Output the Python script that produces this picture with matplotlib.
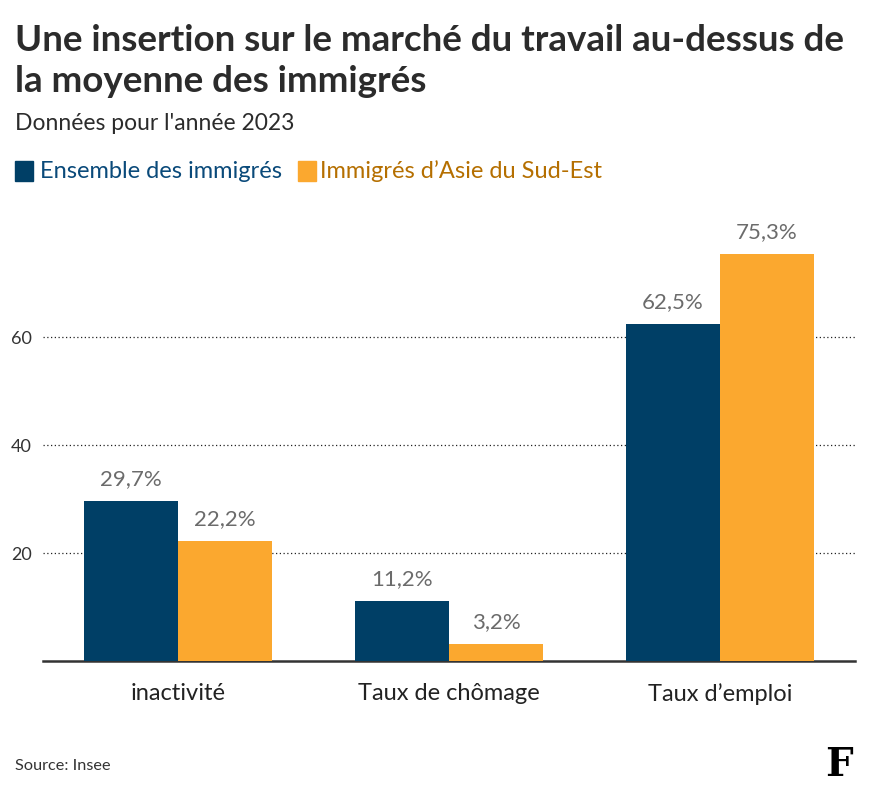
import numpy as np
import matplotlib.pyplot as plt

categories = ["inactivité", "Taux de chômage", "Taux d’emploi"]
ensemble = [29.7, 11.2, 62.5]
asie = [22.2, 3.2, 75.3]
series_names = ["Ensemble des immigrés", "Immigrés d’Asie du Sud-Est"]
yticks = [20, 40, 60]

blue = "#003f66"
orange = "#fba82f"

fig = plt.figure(figsize=(8.88, 8.05), dpi=100)
ax = fig.add_axes([0.0484, 0.1789, 0.9146, 0.56])

x = np.arange(len(categories))
w = 0.347
b1 = ax.bar(x - w / 2, ensemble, w, color=blue, zorder=3)
b2 = ax.bar(x + w / 2, asie, w, color=orange, zorder=3)

for bars, vals in [(b1, ensemble), (b2, asie)]:
    for rect, v in zip(bars, vals):
        ax.text(rect.get_x() + rect.get_width() / 2, v + 2.2,
                f"{v:.1f}%".replace(".", ","), ha="center", va="bottom",
                fontsize=16, color="#6b6b6b", family="Lato")

ax.set_xlim(-0.5, 2.5)
ax.set_ylim(0, 83.5)
ax.set_yticks(yticks)
ax.set_yticklabels([str(t) for t in yticks], family="Lato", fontsize=13, color="#333333")
ax.set_xticks(x)
ax.set_xticklabels(categories, family="Lato", fontsize=17, color="#222222")
ax.tick_params(axis="y", length=0, pad=8)
ax.tick_params(axis="x", length=0, pad=16)
ax.yaxis.grid(True, linestyle=(0, (1, 2)), color="#222222", linewidth=0.9, zorder=0)
for s in ["top", "right", "left"]:
    ax.spines[s].set_visible(False)
ax.spines["bottom"].set_color("#333333")
ax.spines["bottom"].set_linewidth(1.8)

fig.text(0.017, 0.97, "Une insertion sur le marché du travail au-dessus de\nla moyenne des immigrés",
         fontsize=26.5, fontweight="bold", color="#2b2b2b", family="Lato", va="top", linespacing=1.3)
fig.text(0.017, 0.847, "Données pour l'année 2023", fontsize=16.5, color="#2b2b2b", family="Lato", va="center")

fig.patches.append(plt.Rectangle((0.017, 0.775), 0.02, 0.025, transform=fig.transFigure, color=blue))
fig.text(0.045, 0.787, series_names[0], fontsize=17, color="#0a4a7a", family="Lato", va="center")
fig.patches.append(plt.Rectangle((0.336, 0.775), 0.02, 0.025, transform=fig.transFigure, color=orange))
fig.text(0.36, 0.787, series_names[1], fontsize=17, color="#b56f00", family="Lato", va="center")

fig.text(0.017, 0.049, "Source: Insee", fontsize=11.7, color="#333333", family="Lato", va="center")
fig.text(0.945, 0.05, "F", fontsize=28, fontweight="bold", family="DejaVu Serif", color="black",
         ha="center", va="center")

fig.savefig("out.png", dpi=100, facecolor="white")
